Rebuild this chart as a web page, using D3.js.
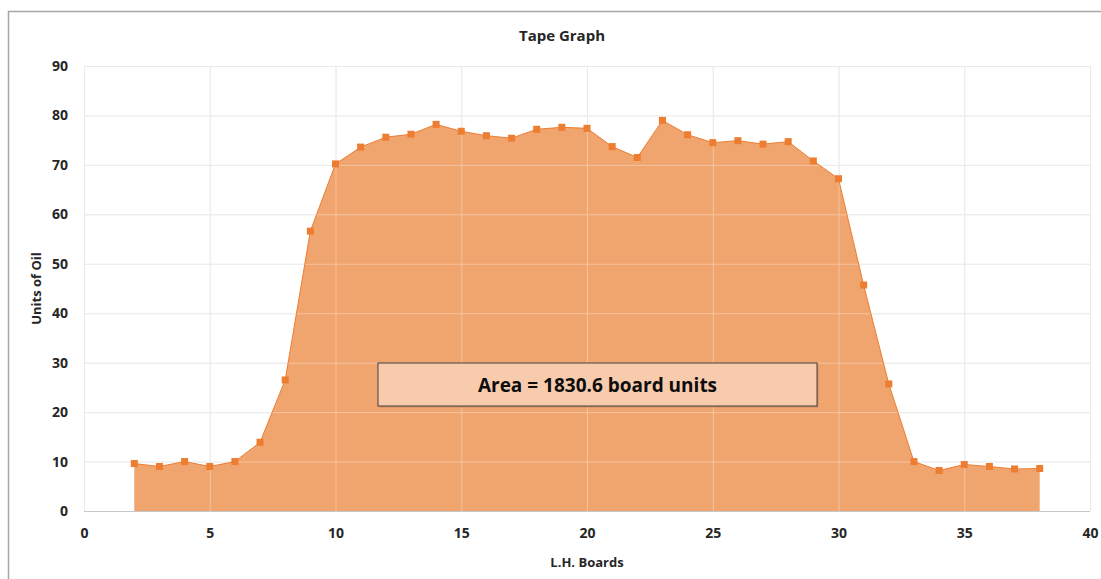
<!DOCTYPE html>
<html>
<head>
<meta charset="utf-8">
<script src="https://cdn.jsdelivr.net/npm/d3@7"></script>
<style>
  body { margin: 0; background: #fff; }
  text { font-family: "Open Sans", "Noto Sans", sans-serif; }
</style>
</head>
<body>
<svg width="1101" height="579"></svg>
<script>
// data
const boards = [2,3,4,5,6,7,8,9,10,11,12,13,14,15,16,17,18,19,20,21,22,23,24,25,26,27,28,29,30,31,32,33,34,35,36,37,38]
const oil = [9.6,9.0,10.0,9.0,10.0,13.9,26.5,56.6,70.2,73.6,75.6,76.2,78.2,76.8,75.9,75.4,77.2,77.6,77.4,73.7,71.5,79.0,76.1,74.5,74.9,74.2,74.7,70.8,67.2,45.7,25.7,10.0,8.2,9.4,9.0,8.5,8.6]
const xTicks = [0,5,10,15,20,25,30,35,40]
const yTicks = [0,10,20,30,40,50,60,70,80,90]
const title = 'Tape Graph'
const note = 'Area = 1830.6 board units'

const data = boards.map((b, i) => ({x: b, y: oil[i]}))

const svg = d3.select('svg')
const margin = {top:66, right:11, bottom:68, left:84}
const width = +svg.attr('width')
const height = +svg.attr('height')
const innerWidth = width - margin.left - margin.right
const innerHeight = height - margin.top - margin.bottom

// outer chart frame (top + left edges visible in reference)
svg.append('path')
	.attr('d', `M8.5,${height} V11.5 H${width}`)
	.attr('fill', 'none')
	.attr('stroke', '#a6a6a6')
	.attr('stroke-width', 1.5)

const xScale = d3.scaleLinear().domain([0, 40]).range([0, innerWidth])
const yScale = d3.scaleLinear().domain([0, 90]).range([innerHeight, 0])

const g = svg.append('g')
	.attr('transform', `translate(${margin.left}, ${margin.top})`)

// gridlines
const grid = g.append('g')
grid.selectAll('.hgrid').data(yTicks).enter().append('line')
	.attr('x1', 0).attr('x2', innerWidth)
	.attr('y1', d => yScale(d) + 0.5).attr('y2', d => yScale(d) + 0.5)
	.attr('stroke', d => d === 0 ? '#c8c8c8' : '#e0e0e0')
grid.selectAll('.vgrid').data(xTicks).enter().append('line')
	.attr('y1', 0).attr('y2', innerHeight)
	.attr('x1', d => xScale(d) + 0.5).attr('x2', d => xScale(d) + 0.5)
	.attr('stroke', '#e0e0e0')

const area = d3.area()
	.x(d => xScale(d.x))
	.y0(yScale(0))
	.y1(d => yScale(d.y))

g.append('path')
	.datum(data)
	.attr('d', area)
	.attr('fill', '#f0a46e')

// gridlines show faintly through the fill
const grid2 = g.append('g').attr('opacity', 0.35)
grid2.selectAll('line').data(yTicks.slice(1)).enter().append('line')
	.attr('x1', 0).attr('x2', innerWidth)
	.attr('y1', d => yScale(d) + 0.5).attr('y2', d => yScale(d) + 0.5)
	.attr('stroke', '#fff')
grid2.selectAll('.v').data(xTicks).enter().append('line')
	.attr('y1', 0).attr('y2', innerHeight)
	.attr('x1', d => xScale(d) + 0.5).attr('x2', d => xScale(d) + 0.5)
	.attr('stroke', '#fff')

const line = d3.line()
	.x(d => xScale(d.x))
	.y(d => yScale(d.y))

g.append('path')
	.datum(data)
	.attr('d', line)
	.attr('fill', 'none')
	.attr('stroke', '#ed7d31')
	.attr('stroke-width', 1)

g.selectAll('.mark')
	.data(data)
	.enter()
	.append('rect')
	.attr('x', d => xScale(d.x) - 3.5)
	.attr('y', d => yScale(d.y) - 3.5)
	.attr('width', 7)
	.attr('height', 7)
	.attr('fill', '#ed7d31')

// axes (tick labels only)
const xAxis = d3.axisBottom(xScale).tickValues(xTicks).tickSize(0).tickPadding(17)
const yAxis = d3.axisLeft(yScale).tickValues(yTicks).tickSize(0).tickPadding(16)

g.append('g').call(xAxis)
	.attr('transform', `translate(0, ${innerHeight})`)
	.call(a => a.select('.domain').remove())
	.selectAll('text')
	.attr('font-family', '"Open Sans", sans-serif')
	.attr('font-size', 14).attr('font-weight', 'bold').attr('fill', '#262626')

g.append('g').call(yAxis)
	.call(a => a.select('.domain').remove())
	.selectAll('text')
	.attr('font-family', '"Open Sans", sans-serif')
	.attr('font-size', 14).attr('font-weight', 'bold').attr('fill', '#262626')

svg.append('text')
	.attr('x', 562).attr('y', 41)
	.attr('text-anchor', 'middle')
	.attr('font-size', 15).attr('font-weight', 'bold').attr('fill', '#262626')
	.text(title)

svg.append('text')
	.attr('x', margin.left + innerWidth / 2).attr('y', 567)
	.attr('text-anchor', 'middle')
	.attr('font-size', 13).attr('font-weight', 'bold').attr('fill', '#262626')
	.text('L.H. Boards')

svg.append('text')
	.attr('transform', `translate(41, ${margin.top + innerHeight / 2}) rotate(-90)`)
	.attr('text-anchor', 'middle')
	.attr('font-size', 13).attr('font-weight', 'bold').attr('fill', '#262626')
	.text('Units of Oil')

// annotation box
const box = svg.append('g').attr('transform', 'translate(378, 363)')
box.append('rect')
	.attr('x', 1.5).attr('y', 1.5)
	.attr('width', 439).attr('height', 43)
	.attr('fill', '#b07a55').attr('opacity', 0.5)
box.append('rect')
	.attr('width', 439).attr('height', 43)
	.attr('fill', '#f8cbad')
	.attr('stroke', '#404040').attr('stroke-width', 1)
box.append('text')
	.attr('x', 219.5).attr('y', 29)
	.attr('text-anchor', 'middle')
	.attr('font-size', 19).attr('font-weight', 'bold').attr('fill', '#0d0d0d')
	.text(note)
</script>
</body>
</html>
